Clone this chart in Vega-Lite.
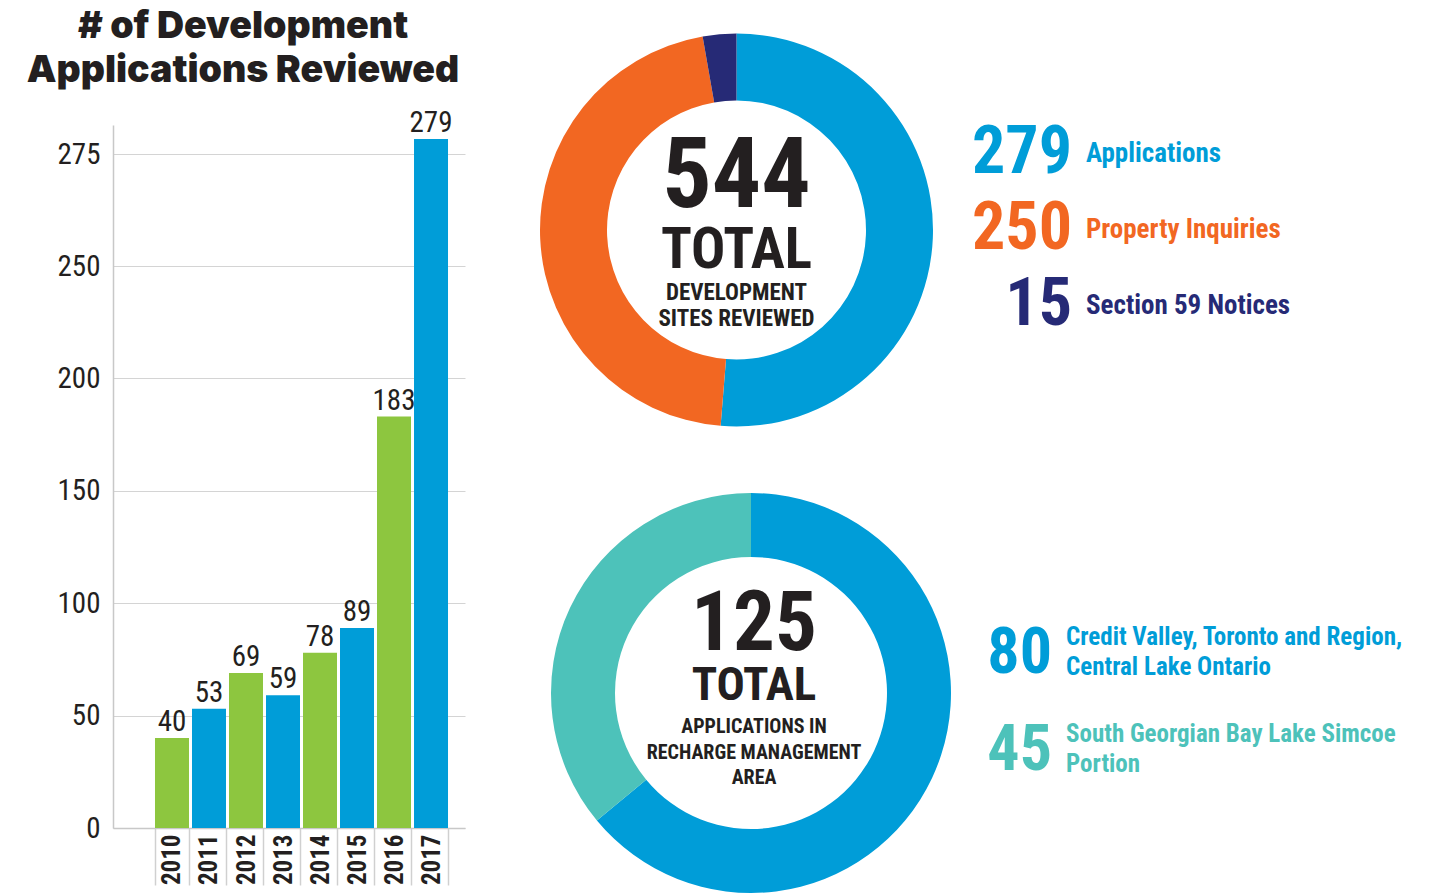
{
  "$schema": "https://vega.github.io/schema/vega-lite/v6.json",
  "padding": {"left": 26, "top": 0, "right": 0, "bottom": 0},
  "background": "white",
  "config": {"view": {"stroke": null}},
  "datasets": {
    "title": [{"line": "1", "text": "# of Development"}, {"line": "2", "text": "Applications Reviewed"}],
    "bars": [
      {"year": "2010", "value": 40}, {"year": "2011", "value": 53}, {"year": "2012", "value": 69}, {"year": "2013", "value": 59},
      {"year": "2014", "value": 78}, {"year": "2015", "value": 89}, {"year": "2016", "value": 183}, {"year": "2017", "value": 279}
    ],
    "sites": [
      {"category": "Applications", "count": 279, "rank": 1},
      {"category": "Property Inquiries", "count": 250, "rank": 2},
      {"category": "Section 59 Notices", "count": 15, "rank": 3}
    ],
    "recharge": [
      {"category": "Credit Valley, Toronto and Region, Central Lake Ontario", "count": 80, "rank": 1},
      {"category": "South Georgian Bay Lake Simcoe Portion", "count": 45, "rank": 2}
    ],
    "legend1": [
      {"label": "Applications", "num": "279"},
      {"label": "Property Inquiries", "num": "250"},
      {"label": "Section 59 Notices", "num": "15"}
    ],
    "legend2": [
      {"label": "Credit Valley, Toronto and Region,\nCentral Lake Ontario", "num": "80"},
      {"label": "South Georgian Bay Lake Simcoe\nPortion", "num": "45"}
    ]
  },
  "spacing": 0,
  "resolve": {"scale": {"x": "independent", "y": "independent", "color": "independent", "theta": "independent"}},
  "hconcat": [
    {
      "spacing": 0,
      "bounds": "flush",
      "resolve": {"scale": {"x": "independent", "y": "independent", "color": "independent"}},
      "vconcat": [
        {
          "width": 399,
          "height": 125,
          "data": {"name": "title"},
          "mark": {"type": "text", "font": "Inter, Lato, sans-serif", "fontWeight": 900, "fontSize": 37.5, "align": "center", "baseline": "alphabetic", "dx": -69.5, "color": "#231f20"},
          "encoding": {
            "y": {"field": "line", "type": "nominal", "sort": null, "axis": null, "scale": {"range": [38, 82], "padding": 0}},
            "text": {"field": "text"}
          }
        },
        {
          "width": 352,
          "height": 703,
          "data": {"name": "bars"},
          "encoding": {
            "x": {
              "field": "year", "type": "ordinal",
              "scale": {"paddingInner": 0.0811, "paddingOuter": 0.797, "align": 0.712},
              "axis": {
                "title": null, "labelAngle": 270, "labelAlign": "right", "labelBaseline": "middle",
                "labelFont": "Roboto Condensed, DejaVu Sans Condensed, sans-serif",
                "labelFontSize": 25, "labelFontWeight": "bold", "labelColor": "#231f20",
                "tickBand": "extent", "tickSize": 57, "tickColor": "#d0d0d0", "tickWidth": 1.5,
                "labelPadding": -51, "domainColor": "#c8c8c8", "domainWidth": 1.5
              }
            },
            "y": {
              "field": "value", "type": "quantitative",
              "scale": {"domain": [0, 250, 275, 282.7], "range": [703, 141, 29, 0], "nice": false, "zero": false},
              "axis": {
                "title": null, "values": [0, 50, 100, 150, 200, 250, 275], "grid": true, "gridColor": "#d4d4d4", "gridWidth": 1,
                "ticks": false, "domainColor": "#c8c8c8", "domainWidth": 1.5,
                "labelFont": "Roboto Condensed, DejaVu Sans Condensed, sans-serif",
                "labelFontSize": 29, "labelColor": "#231f20", "labelPadding": 13
              }
            }
          },
          "layer": [
            {
              "mark": {"type": "bar"},
              "encoding": {
                "color": {"field": "year", "type": "nominal", "legend": null,
                  "scale": {"range": ["#8dc63f", "#009dd8", "#8dc63f", "#009dd8", "#8dc63f", "#009dd8", "#8dc63f", "#009dd8"]}}
              }
            },
            {
              "mark": {"type": "text", "baseline": "alphabetic", "dy": -7, "font": "Roboto Condensed, DejaVu Sans Condensed, sans-serif", "fontSize": 29, "color": "#231f20"},
              "encoding": {"text": {"field": "value"}}
            }
          ]
        }
      ]
    },
    {
      "spacing": 0,
      "resolve": {"scale": {"x": "independent", "y": "independent", "color": "independent", "theta": "independent"}},
      "vconcat": [
        {
          "width": 449,
          "height": 460,
          "resolve": {"scale": {"color": "independent"}},
          "layer": [
            {
              "data": {"name": "sites"},
              "mark": {"type": "arc", "outerRadius": 196.5, "innerRadius": 129.5},
              "encoding": {
                "theta": {"field": "count", "type": "quantitative", "stack": true},
                "order": {"field": "rank", "type": "quantitative"},
                "color": {"field": "category", "type": "nominal", "legend": null,
                  "scale": {"domain": ["Applications", "Property Inquiries", "Section 59 Notices"], "range": ["#009dd8", "#f26722", "#262a76"]}}
              }
            },
            {
              "data": {"values": [{"t": "544"}]},
              "mark": {"type": "text", "font": "Roboto Condensed, DejaVu Sans Condensed, sans-serif", "fontWeight": "bold", "fontSize": 98, "baseline": "alphabetic", "dy": -23, "color": "#231f20"},
              "encoding": {"text": {"field": "t"}}
            },
            {
              "data": {"values": [{"t": "TOTAL"}]},
              "mark": {"type": "text", "font": "Roboto Condensed, DejaVu Sans Condensed, sans-serif", "fontWeight": "bold", "fontSize": 57, "baseline": "alphabetic", "dy": 38, "color": "#231f20"},
              "encoding": {"text": {"field": "t"}}
            },
            {
              "data": {"values": [{"t": "DEVELOPMENT"}]},
              "mark": {"type": "text", "font": "Roboto Condensed, DejaVu Sans Condensed, sans-serif", "fontWeight": "bold", "fontSize": 23, "baseline": "alphabetic", "dy": 70, "color": "#231f20"},
              "encoding": {"text": {"field": "t"}}
            },
            {
              "data": {"values": [{"t": "SITES REVIEWED"}]},
              "mark": {"type": "text", "font": "Roboto Condensed, DejaVu Sans Condensed, sans-serif", "fontWeight": "bold", "fontSize": 23, "baseline": "alphabetic", "dy": 96, "color": "#231f20"},
              "encoding": {"text": {"field": "t"}}
            },
            {
              "data": {"name": "legend1"},
              "mark": {"type": "text", "align": "right", "baseline": "alphabetic", "font": "Roboto Condensed, DejaVu Sans Condensed, sans-serif", "fontWeight": "bold", "fontSize": 66},
              "encoding": {
                "x": {"datum": "number", "type": "nominal", "axis": null, "scale": {"domain": ["number", "label"], "range": [560, 574], "padding": 0}},
                "y": {"field": "label", "type": "nominal", "sort": null, "axis": null, "scale": {"range": [173, 325], "padding": 0}},
                "color": {"field": "label", "type": "nominal", "legend": null,
                  "scale": {"domain": ["Applications", "Property Inquiries", "Section 59 Notices"], "range": ["#009dd8", "#f26722", "#262a76"]}},
                "text": {"field": "num"}
              }
            },
            {
              "data": {"name": "legend1"},
              "mark": {"type": "text", "align": "left", "baseline": "alphabetic", "dy": -11, "font": "Roboto Condensed, DejaVu Sans Condensed, sans-serif", "fontWeight": "bold", "fontSize": 27},
              "encoding": {
                "x": {"datum": "label", "type": "nominal", "axis": null},
                "y": {"field": "label", "type": "nominal", "sort": null, "axis": null},
                "color": {"field": "label", "type": "nominal", "legend": null,
                  "scale": {"domain": ["Applications", "Property Inquiries", "Section 59 Notices"], "range": ["#009dd8", "#f26722", "#262a76"]}},
                "text": {"field": "label"}
              }
            }
          ]
        },
        {
          "width": 478,
          "height": 466,
          "resolve": {"scale": {"color": "independent"}},
          "layer": [
            {
              "data": {"name": "recharge"},
              "mark": {"type": "arc", "outerRadius": 200, "innerRadius": 136},
              "encoding": {
                "theta": {"field": "count", "type": "quantitative", "stack": true},
                "order": {"field": "rank", "type": "quantitative"},
                "color": {"field": "category", "type": "nominal", "legend": null,
                  "scale": {"domain": ["Credit Valley, Toronto and Region, Central Lake Ontario", "South Georgian Bay Lake Simcoe Portion"], "range": ["#009dd8", "#4dc2ba"]}}
              }
            },
            {
              "data": {"values": [{"t": "125"}]},
              "mark": {"type": "text", "font": "Roboto Condensed, DejaVu Sans Condensed, sans-serif", "fontWeight": "bold", "fontSize": 83, "baseline": "alphabetic", "dx": 3, "dy": -43, "color": "#231f20"},
              "encoding": {"text": {"field": "t"}}
            },
            {
              "data": {"values": [{"t": "TOTAL"}]},
              "mark": {"type": "text", "font": "Roboto Condensed, DejaVu Sans Condensed, sans-serif", "fontWeight": "bold", "fontSize": 47, "baseline": "alphabetic", "dx": 3, "dy": 7, "color": "#231f20"},
              "encoding": {"text": {"field": "t"}}
            },
            {
              "data": {"values": [{"t": "APPLICATIONS IN"}]},
              "mark": {"type": "text", "font": "Roboto Condensed, DejaVu Sans Condensed, sans-serif", "fontWeight": "bold", "fontSize": 20, "baseline": "alphabetic", "dx": 3, "dy": 40, "color": "#231f20"},
              "encoding": {"text": {"field": "t"}}
            },
            {
              "data": {"values": [{"t": "RECHARGE MANAGEMENT"}]},
              "mark": {"type": "text", "font": "Roboto Condensed, DejaVu Sans Condensed, sans-serif", "fontWeight": "bold", "fontSize": 20, "baseline": "alphabetic", "dx": 3, "dy": 66, "color": "#231f20"},
              "encoding": {"text": {"field": "t"}}
            },
            {
              "data": {"values": [{"t": "AREA"}]},
              "mark": {"type": "text", "font": "Roboto Condensed, DejaVu Sans Condensed, sans-serif", "fontWeight": "bold", "fontSize": 20, "baseline": "alphabetic", "dx": 3, "dy": 91, "color": "#231f20"},
              "encoding": {"text": {"field": "t"}}
            },
            {
              "data": {"name": "legend2"},
              "mark": {"type": "text", "align": "right", "baseline": "alphabetic", "font": "Roboto Condensed, DejaVu Sans Condensed, sans-serif", "fontWeight": "bold", "fontSize": 64},
              "encoding": {
                "x": {"datum": "number", "type": "nominal", "axis": null, "scale": {"domain": ["number", "label"], "range": [540, 554], "padding": 0}},
                "y": {"field": "label", "type": "nominal", "sort": null, "axis": null, "scale": {"range": [213, 310], "padding": 0}},
                "color": {"field": "num", "type": "nominal", "legend": null,
                  "scale": {"domain": ["80", "45"], "range": ["#009dd8", "#4dc2ba"]}},
                "text": {"field": "num"}
              }
            },
            {
              "data": {"name": "legend2"},
              "mark": {"type": "text", "align": "left", "baseline": "alphabetic", "dy": -28, "lineBreak": "\n", "lineHeight": 30, "font": "Roboto Condensed, DejaVu Sans Condensed, sans-serif", "fontWeight": "bold", "fontSize": 25},
              "encoding": {
                "x": {"datum": "label", "type": "nominal", "axis": null},
                "y": {"field": "label", "type": "nominal", "sort": null, "axis": null},
                "color": {"field": "num", "type": "nominal", "legend": null,
                  "scale": {"domain": ["80", "45"], "range": ["#009dd8", "#4dc2ba"]}},
                "text": {"field": "label"}
              }
            }
          ]
        }
      ]
    }
  ]
}
